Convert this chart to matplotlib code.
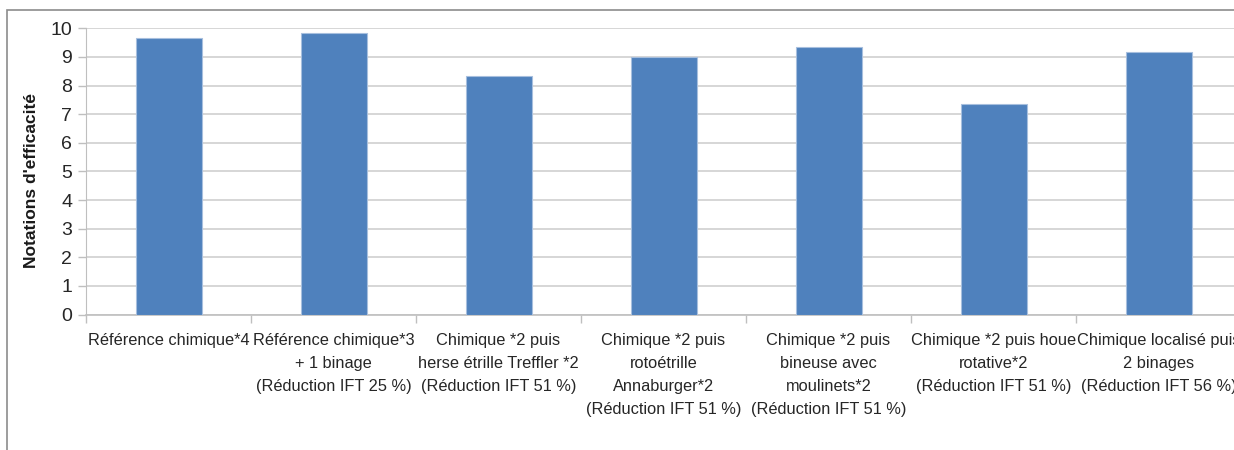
import matplotlib
matplotlib.use("Agg")
import matplotlib.pyplot as plt
from matplotlib.patches import Rectangle

categories = [
    "Référence chimique*4",
    "Référence chimique*3\n+ 1 binage\n(Réduction IFT 25 %)",
    "Chimique *2 puis\nherse étrille Treffler *2\n(Réduction IFT 51 %)",
    "Chimique *2 puis\nrotoétrille\nAnnaburger*2\n(Réduction IFT 51 %)",
    "Chimique *2 puis\nbineuse avec\nmoulinets*2\n(Réduction IFT 51 %)",
    "Chimique *2 puis houe\nrotative*2\n(Réduction IFT 51 %)",
    "Chimique localisé puis\n2 binages\n(Réduction IFT 56 %)",
]
values = [9.67, 9.82, 8.33, 9.0, 9.35, 7.34, 9.16]
yticks = list(range(0, 11))

plt.rcParams['font.family'] = ['Liberation Sans', 'DejaVu Sans']

W, H = 1234, 450
fig = plt.figure(figsize=(W / 100, H / 100), dpi=100)
# outer frame
fig.patches.append(Rectangle((7 / W, -0.1), 1.2, (H - 10) / H + 0.1,
                             transform=fig.transFigure, fill=False,
                             edgecolor="#8c8c8c", linewidth=1.2))

left, right = 86 / W, 1241 / W
bottom, top = 1 - 314.5 / H, 1 - 28.3 / H
ax = fig.add_axes([left, bottom, right - left, top - bottom])

x = list(range(len(categories)))
ax.bar(x, values, width=0.4, color="#4F81BD", edgecolor="#A7BFDE",
       linewidth=0.8, zorder=3)
ax.set_xlim(-0.5, len(categories) - 0.5)
ax.set_ylim(0, 10)
ax.set_yticks(yticks)
ax.set_yticklabels([str(t) for t in yticks], fontsize=14, color="#262626")
ax.tick_params(axis='y', length=6, color="#bfbfbf", width=1, pad=4)

ax.set_xticks(x)
ax.set_xticklabels(categories, fontsize=11.8, color="#262626", linespacing=1.68)
ax.tick_params(axis='x', length=0, pad=13)
# category boundary ticks
ax.set_xticks([i - 0.5 for i in range(len(categories) + 1)], minor=True)
ax.tick_params(axis='x', which='minor', length=6, color="#bfbfbf", width=1)

ax.grid(axis='y', color="#d0d0d0", linewidth=1.2, zorder=0)
for s in ['top', 'right']:
    ax.spines[s].set_visible(False)
ax.spines['left'].set_color("#bfbfbf")
ax.spines['bottom'].set_color("#bfbfbf")
ax.spines['bottom'].set_linewidth(1.2)

fig.text(32 / W, 1 - 180 / H, "Notations d'efficacité", rotation=90,
         ha='center', va='center', fontsize=12.5, fontweight='bold', color="#1a1a1a")

fig.savefig("out.png", dpi=100)
